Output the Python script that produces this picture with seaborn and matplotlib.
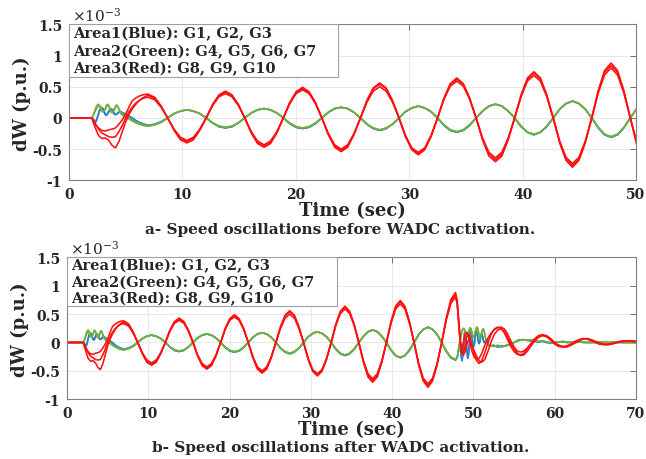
import matplotlib
matplotlib.use('Agg')
import matplotlib.pyplot as plt
import matplotlib.patches as mpatches
import seaborn as sns

# ---- data (dW in units of 1e-3 p.u.) ----
# start-up transient (t = 0 .. 6.8 s), same in both panels
t_red_tr = [0.0, 2.0, 2.3, 2.6, 2.9, 3.2, 3.5, 3.8, 4.1, 4.4, 4.7, 5.0, 5.3, 5.6, 5.9, 6.2, 6.5, 6.8]
red_tr_1 = [0, 0, -0.15, -0.28, -0.33, -0.32, -0.36, -0.44, -0.48, -0.38, -0.22, -0.06, 0.06, 0.15, 0.22, 0.28, 0.32, 0.35]
red_tr_2 = [0, 0, -0.10, -0.16, -0.20, -0.21, -0.19, -0.18, -0.16, -0.10, -0.03, 0.06, 0.18, 0.28, 0.32, 0.35, 0.37, 0.38]
red_tr_3 = [0, 0, -0.08, -0.18, -0.24, -0.27, -0.30, -0.31, -0.30, -0.22, -0.12, 0.0, 0.10, 0.18, 0.24, 0.28, 0.31, 0.33]

t_gb_tr = [0.0, 2.0, 2.1, 2.2, 2.3, 2.4, 2.5, 2.6, 2.7, 2.8, 2.9, 3.0, 3.1, 3.2, 3.3, 3.4, 3.5, 3.6, 3.7,
           3.8, 3.9, 4.0, 4.1, 4.2, 4.3, 4.4, 4.5, 4.6, 4.8, 5.0, 5.3, 5.6, 5.9, 6.2, 6.5, 6.8]
green_tr_1 = [0, 0, 0.03, 0.08, 0.13, 0.18, 0.21, 0.22, 0.20, 0.15, 0.11, 0.09, 0.11, 0.15, 0.20, 0.22, 0.20, 0.15, 0.10,
              0.08, 0.10, 0.15, 0.19, 0.21, 0.19, 0.14, 0.09, 0.06, 0.03, 0.01, -0.02, -0.05, -0.08, -0.10, -0.12, -0.13]
green_tr_2 = [0, 0, 0.02, 0.06, 0.10, 0.14, 0.17, 0.19, 0.19, 0.16, 0.12, 0.10, 0.11, 0.14, 0.18, 0.20, 0.19, 0.16, 0.12,
              0.09, 0.10, 0.13, 0.17, 0.19, 0.18, 0.15, 0.11, 0.08, 0.05, 0.02, -0.01, -0.04, -0.07, -0.09, -0.11, -0.12]
blue_tr_1 = [0, 0, -0.02, -0.05, -0.07, -0.06, 0.00, 0.07, 0.13, 0.16, 0.17, 0.14, 0.09, 0.05, 0.04, 0.07, 0.11, 0.14, 0.15,
             0.13, 0.09, 0.06, 0.05, 0.06, 0.08, 0.10, 0.10, 0.09, 0.07, 0.05, 0.02, -0.01, -0.05, -0.08, -0.10, -0.11]
blue_tr_2 = [0, 0, -0.01, -0.03, -0.05, -0.04, 0.01, 0.06, 0.11, 0.15, 0.16, 0.15, 0.11, 0.07, 0.05, 0.06, 0.09, 0.12, 0.14,
             0.14, 0.11, 0.08, 0.06, 0.06, 0.07, 0.09, 0.10, 0.10, 0.08, 0.06, 0.03, 0.0, -0.04, -0.07, -0.09, -0.11]

# inter-area oscillation, 7 .. 47.8 s (same in both panels)
t_main = [7.00, 7.57, 8.13, 8.70, 9.27, 9.83,
          10.40, 10.97, 11.53, 12.10, 12.67, 13.23,
          13.80, 14.37, 14.93, 15.50, 16.07, 16.63,
          17.20, 17.77, 18.33, 18.90, 19.47, 20.03,
          20.60, 21.17, 21.73, 22.30, 22.87, 23.43,
          24.00, 24.57, 25.13, 25.70, 26.27, 26.83,
          27.40, 27.97, 28.53, 29.10, 29.67, 30.23,
          30.80, 31.37, 31.93, 32.50, 33.07, 33.63,
          34.20, 34.77, 35.33, 35.90, 36.47, 37.03,
          37.60, 38.17, 38.73, 39.30, 39.87, 40.43,
          41.00, 41.57, 42.13, 42.70, 43.27, 43.83,
          44.40, 44.97, 45.53, 46.10, 46.67, 47.23,
          47.80]
red_main_1 = [0.36, 0.31, 0.18, 0, -0.20, -0.35,
              -0.40, -0.35, -0.20, 0, 0.22, 0.37,
              0.43, 0.37, 0.22, 0, -0.24, -0.41,
              -0.47, -0.41, -0.24, 0, 0.25, 0.42,
              0.49, 0.42, 0.25, 0, -0.27, -0.47,
              -0.54, -0.47, -0.27, 0, 0.28, 0.48,
              0.56, 0.48, 0.28, 0, -0.30, -0.51,
              -0.59, -0.51, -0.30, 0, 0.32, 0.55,
              0.64, 0.55, 0.32, 0, -0.35, -0.61,
              -0.70, -0.61, -0.35, 0, 0.37, 0.64,
              0.74, 0.64, 0.37, 0, -0.40, -0.68,
              -0.79, -0.68, -0.40, 0, 0.44, 0.76,
              0.88]
red_main_2 = [0.38, 0.33, 0.19, 0, -0.19, -0.33,
              -0.38, -0.33, -0.19, 0, 0.21, 0.36,
              0.41, 0.36, 0.21, 0, -0.23, -0.39,
              -0.45, -0.39, -0.23, 0, 0.24, 0.41,
              0.47, 0.41, 0.24, 0, -0.26, -0.45,
              -0.52, -0.45, -0.26, 0, 0.27, 0.47,
              0.54, 0.47, 0.27, 0, -0.29, -0.49,
              -0.57, -0.49, -0.29, 0, 0.31, 0.54,
              0.62, 0.54, 0.31, 0, -0.34, -0.58,
              -0.67, -0.58, -0.34, 0, 0.36, 0.62,
              0.72, 0.62, 0.36, 0, -0.38, -0.66,
              -0.76, -0.66, -0.38, 0, 0.42, 0.73,
              0.84]
red_main_3 = [0.33, 0.29, 0.17, 0, -0.18, -0.31,
              -0.36, -0.31, -0.18, 0, 0.20, 0.34,
              0.39, 0.34, 0.20, 0, -0.22, -0.37,
              -0.43, -0.37, -0.22, 0, 0.23, 0.39,
              0.45, 0.39, 0.23, 0, -0.25, -0.43,
              -0.50, -0.43, -0.25, 0, 0.25, 0.43,
              0.50, 0.43, 0.25, 0, -0.28, -0.48,
              -0.55, -0.48, -0.28, 0, 0.30, 0.51,
              0.59, 0.51, 0.30, 0, -0.32, -0.55,
              -0.64, -0.55, -0.32, 0, 0.34, 0.59,
              0.68, 0.59, 0.34, 0, -0.37, -0.63,
              -0.73, -0.63, -0.37, 0, 0.40, 0.69,
              0.80]
green_main = [-0.13, -0.11, -0.07, 0, 0.07, 0.11,
              0.13, 0.11, 0.07, 0, -0.08, -0.13,
              -0.15, -0.13, -0.08, 0, 0.08, 0.13,
              0.15, 0.13, 0.08, 0, -0.08, -0.14,
              -0.16, -0.14, -0.08, 0, 0.09, 0.15,
              0.17, 0.15, 0.09, 0, -0.10, -0.16,
              -0.19, -0.16, -0.10, 0, 0.10, 0.16,
              0.19, 0.16, 0.10, 0, -0.11, -0.19,
              -0.22, -0.19, -0.11, 0, 0.11, 0.19,
              0.22, 0.19, 0.11, 0, -0.13, -0.23,
              -0.26, -0.23, -0.13, 0, 0.14, 0.23,
              0.27, 0.23, 0.14, 0, -0.15, -0.26,
              -0.30]
blue_main = [-0.12, -0.10, -0.06, 0, 0.07, 0.11,
             0.13, 0.11, 0.07, 0, -0.08, -0.14,
             -0.16, -0.14, -0.08, 0, 0.08, 0.13,
             0.15, 0.13, 0.08, 0, -0.09, -0.15,
             -0.17, -0.15, -0.09, 0, 0.09, 0.15,
             0.17, 0.15, 0.09, 0, -0.10, -0.17,
             -0.20, -0.17, -0.10, 0, 0.10, 0.16,
             0.19, 0.16, 0.10, 0, -0.12, -0.20,
             -0.23, -0.20, -0.12, 0, 0.11, 0.19,
             0.22, 0.19, 0.11, 0, -0.14, -0.23,
             -0.27, -0.23, -0.14, 0, 0.14, 0.23,
             0.27, 0.23, 0.14, 0, -0.16, -0.27,
             -0.31]

# panel a: the last seconds up to 50 s (no damping)
t_tail = [48.37, 48.93, 49.50, 50.07]
red_tail_1 = [0.76, 0.44, 0, -0.43]
red_tail_2 = [0.73, 0.42, 0, -0.41]
red_tail_3 = [0.69, 0.40, 0, -0.39]
green_tail = [-0.26, -0.15, 0, 0.15]
blue_tail = [-0.27, -0.16, 0, 0.15]

# panel b: after WADC activation (48 .. 70 s)
t_red_post = [48.0, 48.2, 48.4, 48.6, 48.8, 49.0, 49.2, 49.4, 49.6, 49.8,
              50.1, 50.4, 50.7, 51.0,
              51.4, 51.8, 52.2, 52.6, 53.0, 53.4, 53.8, 54.2, 54.6, 55.0, 55.4, 55.8, 56.2, 56.6, 57.0,
              57.5, 58.0, 58.5, 59.0, 59.5, 60.0, 60.5, 61.0, 61.5, 62.0, 62.5, 63.0, 63.5, 64.0,
              64.5, 65.0, 65.5, 66.0, 66.5, 67.0, 67.5, 68.0, 68.5, 69.0, 69.5, 70.0]
red_post_1 = [0.75, 0.35, -0.05, -0.20, -0.18, -0.02, 0.12, 0.15, 0.08, -0.05,
              -0.20, -0.32, -0.37, -0.33,
              -0.18, 0.0, 0.15, 0.24, 0.27, 0.25, 0.17, 0.05, -0.07, -0.16, -0.21, -0.22, -0.19, -0.12, -0.04,
              0.06, 0.12, 0.14, 0.11, 0.04, -0.03, -0.07, -0.08, -0.07, -0.03, 0.02, 0.05, 0.07, 0.06,
              0.03, 0.0, -0.03, -0.04, -0.04, -0.02, 0.0, 0.02, 0.03, 0.03, 0.02, 0.02]
red_post_2 = [0.70, 0.30, -0.02, -0.12, 0.02, 0.15, 0.18, 0.10, -0.03, -0.15,
              -0.26, -0.30, -0.28, -0.20,
              -0.05, 0.08, 0.17, 0.23, 0.26, 0.27, 0.24, 0.15, 0.03, -0.08, -0.15, -0.17, -0.15, -0.10, -0.03,
              0.05, 0.10, 0.12, 0.10, 0.05, -0.01, -0.05, -0.07, -0.06, -0.03, 0.01, 0.04, 0.06, 0.06,
              0.04, 0.01, -0.02, -0.03, -0.03, -0.02, 0.0, 0.01, 0.02, 0.02, 0.02, 0.01]
red_post_3 = [0.68, 0.38, 0.05, -0.15, -0.22, -0.15, -0.02, 0.05, 0.03, -0.05,
              -0.15, -0.25, -0.32, -0.35,
              -0.30, -0.15, 0.02, 0.15, 0.22, 0.24, 0.20, 0.10, -0.02, -0.12, -0.19, -0.23, -0.22, -0.16, -0.08,
              0.02, 0.09, 0.13, 0.12, 0.07, 0.0, -0.05, -0.08, -0.08, -0.05, -0.01, 0.03, 0.06, 0.07,
              0.05, 0.02, -0.01, -0.03, -0.04, -0.03, -0.01, 0.01, 0.02, 0.03, 0.03, 0.02]

t_gb_post = [48.0, 48.1, 48.2, 48.3, 48.4, 48.5, 48.6, 48.7, 48.8, 48.9,
             49.0, 49.1, 49.2, 49.3, 49.4, 49.5, 49.6, 49.7, 49.8, 49.9,
             50.0, 50.1, 50.2, 50.3, 50.4, 50.5, 50.6, 50.7, 50.8, 50.9,
             51.0, 51.1, 51.2, 51.3, 51.4, 51.5, 51.6, 51.7, 51.8, 51.9,
             52.0,
             52.5, 53.0, 53.5, 54.0, 54.5, 55.0, 55.5, 56.0, 56.5, 57.0,
             57.5, 58.0, 58.5, 59.0, 59.5, 60.0, 60.5, 61.0, 61.5, 62.0,
             62.5, 63.0, 63.5, 64.0, 64.5, 65.0, 65.5, 66.0, 66.5, 67.0,
             67.5, 68.0, 68.5, 69.0, 69.5, 70.0]
green_post = [-0.26, -0.20, -0.12, -0.03, 0.06, 0.14, 0.20, 0.24, 0.25, 0.22,
              0.16, 0.11, 0.10, 0.13, 0.18, 0.23, 0.26, 0.24, 0.18, 0.12,
              0.09, 0.11, 0.17, 0.23, 0.27, 0.26, 0.20, 0.13, 0.09, 0.11,
              0.17, 0.22, 0.24, 0.21, 0.14, 0.07, 0.02, -0.01, -0.03, -0.04,
              -0.05,
              -0.07, -0.05, -0.08, -0.05, -0.03, 0.0, 0.03, 0.05, 0.04, 0.05,
              0.03, 0.02, 0.03, 0.01, 0.0, 0.0, 0.01, 0.02, 0.01, 0.0,
              0.0, 0.01, 0.01, 0.0, 0.0, 0.01, 0.01, 0.0, 0.0, 0.0,
              0.01, 0.01, 0.0, 0.0, 0.0, 0.0]
blue_post = [-0.27, -0.20, -0.10, -0.02, -0.10, -0.25, -0.32, -0.22, 0.0, 0.16,
             0.20, 0.08, -0.14, -0.28, -0.22, -0.02, 0.16, 0.22, 0.14, 0.0,
             -0.08, -0.04, 0.08, 0.18, 0.20, 0.12, 0.02, -0.02, 0.02, 0.10,
             0.15, 0.12, 0.05, 0.0, 0.0, 0.03, 0.04, 0.02, -0.02, -0.05,
             -0.06,
             -0.05, -0.08, -0.06, -0.06, -0.03, 0.0, 0.04, 0.05, 0.04, 0.03,
             0.02, 0.01, 0.02, 0.0, -0.01, 0.0, 0.01, 0.01, 0.0, 0.0,
             0.0, 0.01, 0.0, 0.0, 0.0, 0.0, 0.01, 0.0, 0.0, 0.0,
             0.0, 0.0, 0.0, 0.0, 0.0, 0.0]

legend_lines = ['Area1(Blue): G1, G2, G3',
                'Area2(Green): G4, G5, G6, G7',
                'Area3(Red): G8, G9, G10']
y_ticks = [-1, -0.5, 0, 0.5, 1, 1.5]
y_ticklabels = ['-1', '-0.5', '0', '0.5', '1', '1.5']

BLUE = '#2b83c6'
GREEN = '#74b03c'
RED = '#ff1010'

sns.set_style('white')
plt.rcParams['font.family'] = ['DejaVu Serif']
plt.rcParams['mathtext.fontset'] = 'dejavuserif'


def draw(ax, t, v, color):
    sns.lineplot(x=t, y=v, color=color, linewidth=1.15, ax=ax,
                 estimator=None, sort=False, legend=False)


def style_axes(ax, xmax, xticks, box_w, box_h):
    ax.set_xlim(0, xmax)
    ax.set_ylim(-1, 1.5)
    ax.set_xticks(xticks)
    ax.set_yticks(y_ticks)
    ax.set_yticklabels(y_ticklabels)
    ax.grid(True, color='#e8e8e8', linewidth=0.7)
    ax.set_axisbelow(True)
    ax.tick_params(direction='in', top=True, right=True, length=4, width=0.7,
                   color='#707070', labelsize=10, pad=5)
    for lbl in ax.get_xticklabels() + ax.get_yticklabels():
        lbl.set_fontweight('bold')
    for sp in ax.spines.values():
        sp.set_color('#808080')
        sp.set_linewidth(0.8)
    ax.set_xlabel('Time (sec)', fontsize=13, fontweight='bold', labelpad=0)
    ax.set_ylabel('dW (p.u.)', fontsize=13, fontweight='bold', labelpad=1)
    ax.text(0.005, 1.005, r'$\times10^{-3}$', transform=ax.transAxes,
            fontsize=11, ha='left', va='bottom')
    # text box with the area/generator grouping
    ax.add_patch(mpatches.Rectangle((0, 1 - box_h), box_w, box_h, transform=ax.transAxes,
                                    facecolor='white', edgecolor='#a0a0a0', linewidth=0.8,
                                    zorder=5))
    step = box_h / 3.0
    for i, line in enumerate(legend_lines):
        ax.text(0.008, 1 - step * (i + 0.5), line, transform=ax.transAxes,
                fontsize=10.5, fontweight='bold', ha='left', va='center', zorder=6)


fig = plt.figure(figsize=(6.46, 4.6), dpi=100)
ax1 = fig.add_axes([0.1068, 0.6057, 0.8777, 0.3393])
ax2 = fig.add_axes([0.1037, 0.1300, 0.8808, 0.3083])

# panel a
draw(ax1, t_gb_tr + t_main + t_tail, blue_tr_1 + blue_main + blue_tail, BLUE)
draw(ax1, t_gb_tr + t_main + t_tail, blue_tr_2 + blue_main + blue_tail, BLUE)
draw(ax1, t_gb_tr + t_main + t_tail, green_tr_1 + green_main + green_tail, GREEN)
draw(ax1, t_gb_tr + t_main + t_tail, green_tr_2 + green_main + green_tail, GREEN)
draw(ax1, t_red_tr + t_main + t_tail, red_tr_1 + red_main_1 + red_tail_1, RED)
draw(ax1, t_red_tr + t_main + t_tail, red_tr_2 + red_main_2 + red_tail_2, RED)
draw(ax1, t_red_tr + t_main + t_tail, red_tr_3 + red_main_3 + red_tail_3, RED)
style_axes(ax1, 50, [0, 10, 20, 30, 40, 50], 0.474, 0.338)

# panel b
draw(ax2, t_gb_tr + t_main + t_gb_post, blue_tr_1 + blue_main + blue_post, BLUE)
draw(ax2, t_gb_tr + t_main + t_gb_post, blue_tr_2 + blue_main + blue_post, BLUE)
draw(ax2, t_gb_tr + t_main + t_gb_post, green_tr_1 + green_main + green_post, GREEN)
draw(ax2, t_gb_tr + t_main + t_gb_post, green_tr_2 + green_main + green_post, GREEN)
draw(ax2, t_red_tr + t_main + t_red_post, red_tr_1 + red_main_1 + red_post_1, RED)
draw(ax2, t_red_tr + t_main + t_red_post, red_tr_2 + red_main_2 + red_post_2, RED)
draw(ax2, t_red_tr + t_main + t_red_post, red_tr_3 + red_main_3 + red_post_3, RED)
style_axes(ax2, 70, [0, 10, 20, 30, 40, 50, 60, 70], 0.475, 0.345)

fig.text(0.527, 1 - 230 / 460, 'a- Speed oscillations before WADC activation.',
         ha='center', va='center', fontsize=11, fontweight='bold')
fig.text(0.527, 1 - 448 / 460, 'b- Speed oscillations after WADC activation.',
         ha='center', va='center', fontsize=11, fontweight='bold')

fig.savefig('out.png', dpi=100, facecolor='white')
